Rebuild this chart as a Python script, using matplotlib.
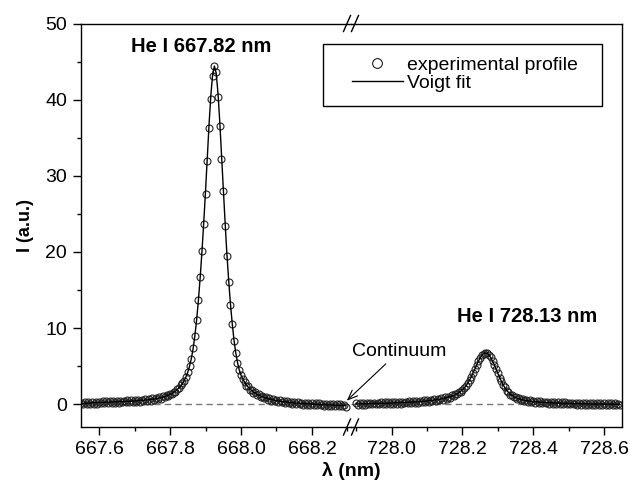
import matplotlib
matplotlib.use('Agg')
import matplotlib.pyplot as plt
from matplotlib.lines import Line2D
from matplotlib.patches import Rectangle
import numpy as np

plt.rcParams['font.family'] = ['Liberation Sans', 'DejaVu Sans']

# wavelength sampling of the spectrometer (nm), 0.005 nm per pixel
STEP = 0.005
left_start = 667.55
right_start = 727.90

# He I 667.82 nm line, measured intensities
left_measured = [
    0.20, 0.00, 0.25, 0.03, 0.27, 0.05, 0.29, 0.06, 0.31, 0.08,
    0.33, 0.10, 0.35, 0.12, 0.37, 0.14, 0.39, 0.16, 0.41, 0.18,
    0.43, 0.20, 0.45, 0.22, 0.47, 0.24, 0.49, 0.26, 0.51, 0.28,
    0.54, 0.31, 0.57, 0.34, 0.61, 0.38, 0.65, 0.42, 0.70, 0.48,
    0.76, 0.56, 0.84, 0.64, 0.93, 0.74, 1.04, 0.88, 1.18, 1.06,
    1.36, 1.28, 1.60, 1.60, 1.95, 2.10, 2.46, 2.72, 3.08, 3.62,
    4.18, 5.02, 5.98, 7.32, 8.98, 11.1, 13.7, 16.7, 20.1, 23.6,
    27.6, 32.0, 36.3, 40.1, 43.1, 44.4,
    43.6, 40.4, 36.6, 32.2, 28.0, 23.4, 19.5, 16.1, 13.0, 10.5,
    8.3, 6.7, 5.4, 4.5, 3.8, 3.3, 2.95, 2.45, 2.35, 1.90,
    1.92, 1.48, 1.57, 1.18, 1.30, 0.95, 1.09, 0.76, 0.92, 0.61,
    0.78, 0.48, 0.67, 0.38, 0.58, 0.30, 0.50, 0.23, 0.44, 0.16,
    0.38, 0.10, 0.33, 0.05, 0.29, 0.01, 0.25, -0.03, 0.21, -0.06,
    0.18, -0.08, 0.15, -0.11, 0.13, -0.13, 0.11, -0.15, 0.09, -0.17,
    0.07, -0.19, 0.05, -0.21, 0.03, -0.23, 0.01, -0.25, -0.01, -0.27,
    -0.03, -0.29, -0.05, -0.31,
]

left_fit = [
    0.11, 0.12, 0.13, 0.14, 0.15, 0.16, 0.17, 0.18, 0.19, 0.20,
    0.21, 0.22, 0.23, 0.24, 0.25, 0.26, 0.27, 0.28, 0.29, 0.30,
    0.31, 0.32, 0.33, 0.34, 0.35, 0.36, 0.37, 0.38, 0.39, 0.40,
    0.42, 0.43, 0.45, 0.47, 0.49, 0.51, 0.53, 0.55, 0.58, 0.61,
    0.64, 0.68, 0.72, 0.76, 0.81, 0.87, 0.93, 1.00, 1.08, 1.17,
    1.28, 1.40, 1.55, 1.70, 1.90, 2.15, 2.40, 2.70, 3.10, 3.60,
    4.20, 5.00, 6.00, 7.30, 9.00, 11.1, 13.7, 16.7, 20.1, 23.9,
    28.0, 32.4, 36.8, 40.6, 43.3, 44.4,
    43.5, 40.9, 37.2, 32.8, 28.3, 24.0, 19.9, 16.4, 13.3, 10.7,
    8.5, 6.8, 5.5, 4.5, 3.8, 3.3, 2.9, 2.55, 2.25, 2.0,
    1.8, 1.6, 1.45, 1.3, 1.18, 1.07, 0.97, 0.88, 0.80, 0.73,
    0.66, 0.60, 0.55, 0.50, 0.46, 0.42, 0.38, 0.35, 0.32, 0.29,
    0.26, 0.23, 0.21, 0.19, 0.17, 0.15, 0.13, 0.11, 0.09, 0.08,
    0.06, 0.05, 0.03, 0.02, 0.01, 0.00, -0.01, -0.03, -0.04, -0.05,
    -0.06, -0.07, -0.08, -0.09, -0.10, -0.11, -0.12, -0.13, -0.14, -0.15,
    -0.16, -0.17, -0.18, -0.19,
]

# He I 728.13 nm line
right_measured = [
    0.13, -0.08, 0.15, -0.06, 0.17, -0.05, 0.18, -0.04, 0.19, -0.03,
    0.20, -0.02, 0.21, -0.01, 0.22, 0.00, 0.24, 0.01, 0.25, 0.02,
    0.26, 0.03, 0.28, 0.05, 0.30, 0.07, 0.32, 0.09, 0.34, 0.11,
    0.36, 0.13, 0.39, 0.16, 0.42, 0.19, 0.45, 0.23, 0.49, 0.27,
    0.53, 0.32, 0.58, 0.38, 0.64, 0.44, 0.70, 0.52, 0.78, 0.61,
    0.88, 0.72, 1.00, 0.86, 1.15, 1.04, 1.33, 1.28, 1.58, 1.60,
    1.88, 2.17, 2.40, 2.78, 3.12, 3.63, 4.06, 4.66, 5.11, 5.69,
    6.04, 6.47, 6.63, 6.78,
    6.71, 6.42, 6.13, 5.61, 5.18, 4.56, 4.09, 3.46, 3.04, 2.51,
    2.19, 1.78, 1.62, 1.25, 1.23, 0.91, 0.98, 0.67, 0.80, 0.50,
    0.67, 0.39, 0.57, 0.30, 0.50, 0.24, 0.44, 0.20, 0.40, 0.16,
    0.36, 0.13, 0.33, 0.10, 0.31, 0.08, 0.29, 0.06, 0.27, 0.04,
    0.25, 0.02, 0.24, 0.01, 0.22, -0.01, 0.21, -0.02, 0.19, -0.04,
    0.18, -0.05, 0.17, -0.06, 0.16, -0.07, 0.15, -0.08, 0.14, -0.09,
    0.13, -0.10, 0.12, -0.11, 0.11, -0.12, 0.10, -0.13, 0.10, -0.13,
    0.09, -0.14, 0.09, -0.14, 0.08, -0.15,
]

right_fit = [
    0.03, 0.04, 0.04, 0.05, 0.05, 0.06, 0.06, 0.07, 0.07, 0.08,
    0.08, 0.09, 0.09, 0.10, 0.10, 0.11, 0.12, 0.12, 0.13, 0.14,
    0.14, 0.15, 0.16, 0.17, 0.18, 0.19, 0.20, 0.21, 0.22, 0.23,
    0.24, 0.25, 0.27, 0.28, 0.30, 0.31, 0.33, 0.35, 0.37, 0.39,
    0.41, 0.44, 0.47, 0.50, 0.53, 0.56, 0.60, 0.64, 0.68, 0.73,
    0.78, 0.84, 0.90, 0.97, 1.05, 1.14, 1.25, 1.38, 1.53, 1.70,
    1.90, 2.14, 2.42, 2.75, 3.15, 3.60, 4.10, 4.62, 5.15, 5.65,
    6.08, 6.43, 6.66, 6.75,
    6.68, 6.45, 6.10, 5.65, 5.15, 4.60, 4.05, 3.50, 3.00, 2.55,
    2.15, 1.82, 1.55, 1.32, 1.14, 0.99, 0.87, 0.77, 0.69, 0.62,
    0.56, 0.51, 0.46, 0.42, 0.39, 0.36, 0.33, 0.31, 0.29, 0.27,
    0.25, 0.23, 0.22, 0.20, 0.19, 0.18, 0.17, 0.16, 0.15, 0.14,
    0.13, 0.12, 0.12, 0.11, 0.10, 0.10, 0.09, 0.08, 0.08, 0.07,
    0.07, 0.06, 0.06, 0.05, 0.05, 0.04, 0.04, 0.03, 0.03, 0.02,
    0.02, 0.02, 0.01, 0.01, 0.01, 0.00, 0.00, 0.00, -0.01, -0.01,
    -0.01, -0.01, -0.02, -0.02, -0.02, -0.02,
]

left_ticks = [667.6, 667.8, 668.0, 668.2]
right_ticks = [728.0, 728.2, 728.4, 728.6]
y_ticks = [0, 10, 20, 30, 40, 50]

W, H = 630, 488
FS = 14


def px_box(x0, x1, y_top, y_bot):
    return [x0 / W, 1 - y_bot / H, (x1 - x0) / W, (y_bot - y_top) / H]


def style_axis(ax, ticks, minor):
    ax.set_xticks(ticks)
    ax.set_xticks(minor, minor=True)
    ax.set_xticklabels(['%.1f' % t for t in ticks])
    ax.tick_params(axis='both', which='major', direction='out', length=6,
                   width=1, labelsize=FS, pad=4)
    ax.tick_params(axis='both', which='minor', direction='out', length=3.2, width=1)
    ax.tick_params(top=False, right=False)
    for s in ax.spines.values():
        s.set_linewidth(1)
    ax.set_ylim(-3, 50)
    ax.patch.set_visible(False)


def draw_profile(ax, wl, measured, fit):
    ax.axhline(0, color='#777777', lw=1, dashes=(4.5, 3), zorder=1)
    ax.plot(wl, measured, ls='none', marker='o', ms=5.0, mfc='none',
            mec='#222222', mew=0.8, zorder=2)
    ax.plot(wl, fit, color='black', lw=1, zorder=3)


fig = plt.figure(figsize=(W / 100, H / 100), dpi=100)
ax1 = fig.add_axes(px_box(81, 351, 23.5, 427))
ax2 = fig.add_axes(px_box(351, 621.7, 23.5, 427))

left_wl = left_start + STEP * np.arange(len(left_measured))
right_wl = right_start + STEP * np.arange(len(right_measured))

draw_profile(ax1, left_wl, left_measured, left_fit)
draw_profile(ax2, right_wl, right_measured, right_fit)

ax1.set_xlim(667.549, 668.31)
ax2.set_xlim(727.885, 728.65)
style_axis(ax1, left_ticks, [667.7, 667.9, 668.1, 668.3])
style_axis(ax2, right_ticks, [727.9, 728.1, 728.3, 728.5])

ax1.set_yticks(y_ticks)
ax1.set_yticks([5, 15, 25, 35, 45], minor=True)
ax1.spines['right'].set_visible(False)
ax2.spines['left'].set_visible(False)
ax2.tick_params(axis='y', which='both', left=False, labelleft=False)

ax1.set_ylabel('I (a.u.)', fontsize=13, fontweight='bold', labelpad=8)
fig.text(351 / W, 1 - 471 / H, 'λ (nm)', fontsize=14, fontweight='bold',
         ha='center', va='center')

ax1.text(667.887, 47.0, 'He I 667.82 nm', fontsize=14.5, fontweight='bold',
         ha='center', va='center')
ax2.text(728.383, 11.5, 'He I 728.13 nm', fontsize=14.5, fontweight='bold',
         ha='center', va='center')

ax2.annotate('Continuum', xy=(668.298, 0.45), xycoords=ax1.transData,
             xytext=(728.02, 6.9), textcoords='data',
             fontsize=FS, ha='center', va='center', annotation_clip=False,
             arrowprops=dict(arrowstyle='->,head_length=0.5,head_width=0.2',
                             color='black', lw=0.8, shrinkA=1, shrinkB=0))

# legend with a hand-placed frame
handles = [Line2D([], [], ls='none', marker='o', ms=7, mfc='none', mec='black', mew=0.7),
           Line2D([], [], color='black', lw=1)]
leg = fig.legend(handles, ['experimental profile', 'Voigt fit'],
                 loc='upper left', bbox_to_anchor=(352 / W, 1 - 56 / H),
                 frameon=False, fontsize=FS, handlelength=2.6, handletextpad=0.25,
                 labelspacing=0.02, borderpad=0, borderaxespad=0)
fig.add_artist(Rectangle((323 / W, 1 - 106 / H), 278.7 / W, 62 / H,
                         transform=fig.transFigure, fill=False, lw=1,
                         edgecolor='black'))

# axis break marks
for cx in (347, 355):
    for cy in (23.5, 427):
        fig.add_artist(Line2D([(cx - 3.5) / W, (cx + 3.5) / W],
                              [1 - (cy + 8) / H, 1 - (cy - 8) / H],
                              transform=fig.transFigure, color='black', lw=1))

fig.savefig('out.png', dpi=100)
